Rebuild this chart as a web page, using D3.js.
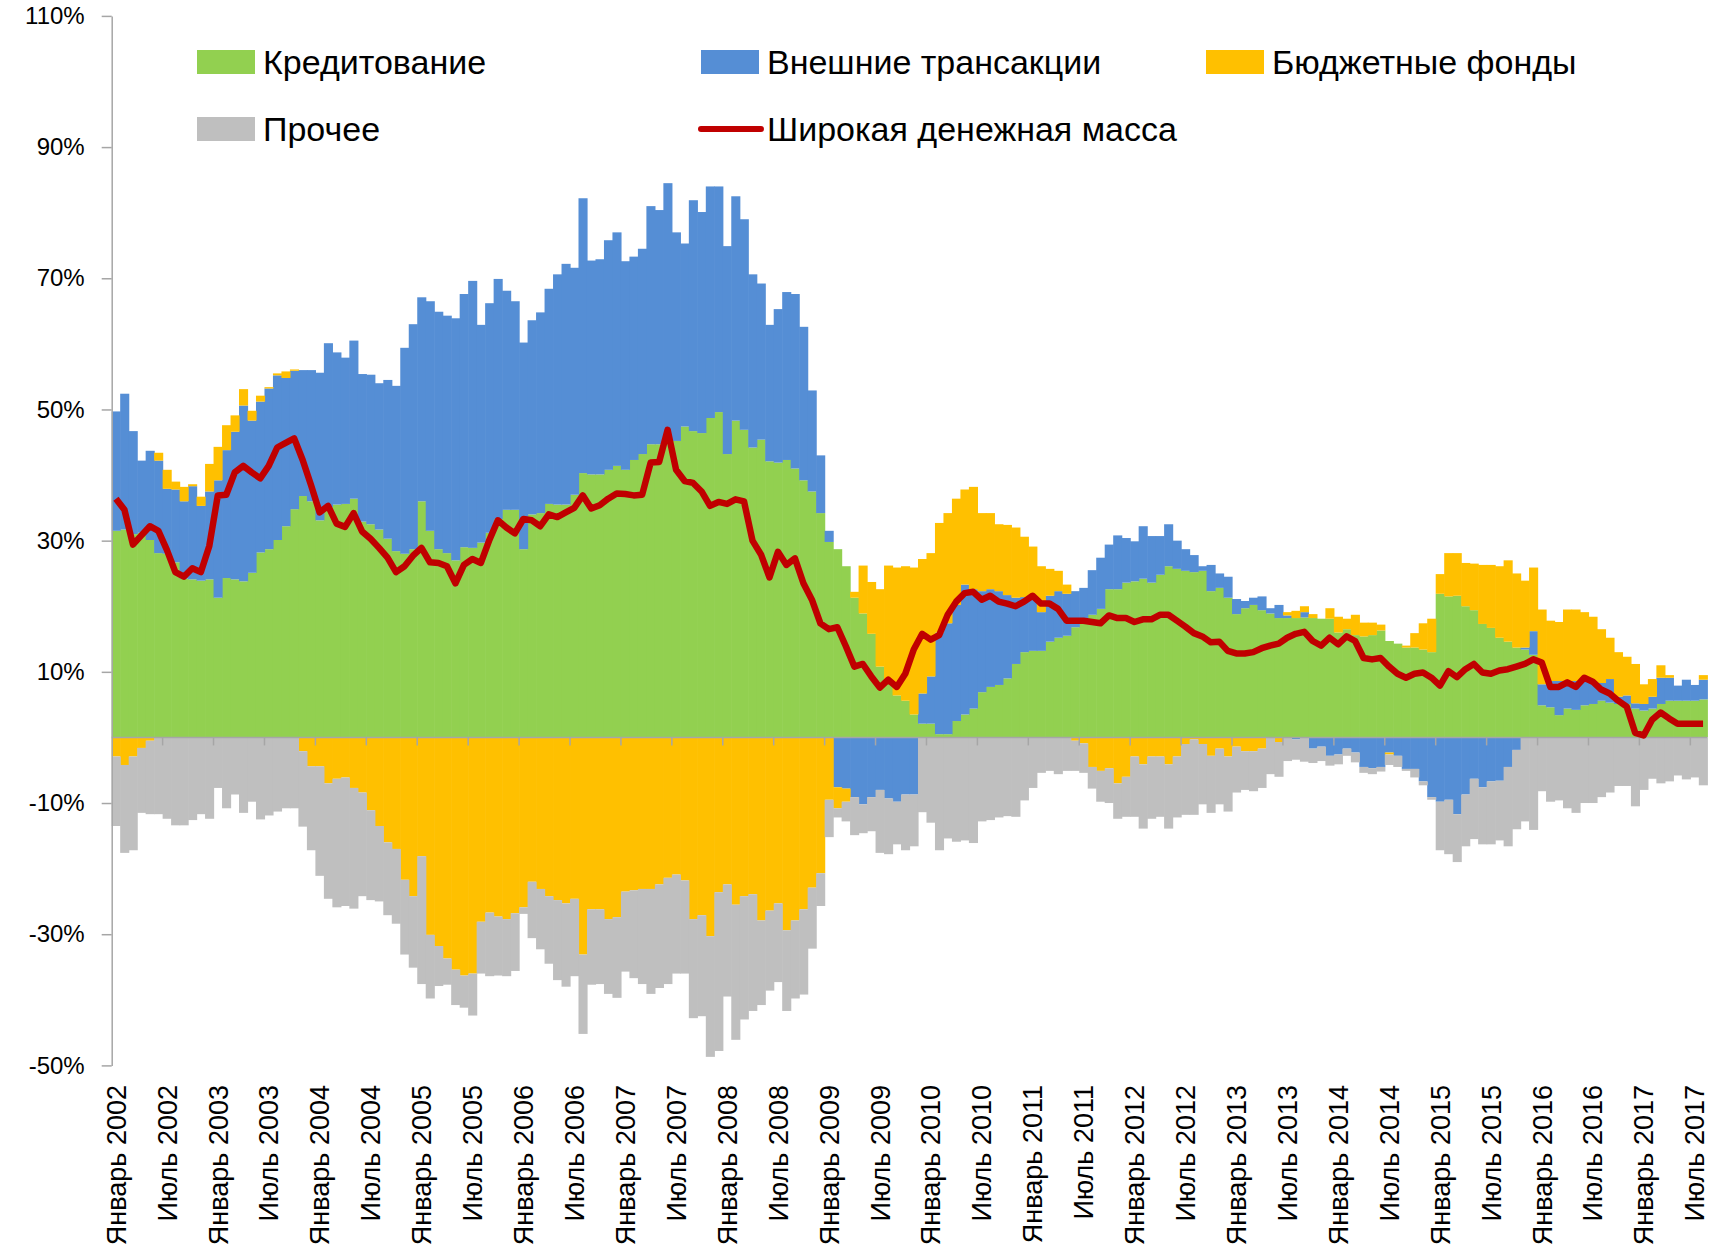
<!DOCTYPE html>
<html>
<head>
<meta charset="utf-8">
<script src="https://cdn.jsdelivr.net/npm/d3@7"></script>
<style>
  body { margin: 0; background: #fff; }
  svg { display: block; font-family: "Liberation Sans", Arial, sans-serif; }
</style>
</head>
<body>
<svg width="1714" height="1251"></svg>
<script>
// monthly data, January 2002 .. August 2017, % y/y contributions
const monthNames = ["Январь", "Февраль", "Март", "Апрель", "Май", "Июнь",
  "Июль", "Август", "Сентябрь", "Октябрь", "Ноябрь", "Декабрь"];
const startYear = 2002;

const credit = [
  31.5, 31.7, 31.0, 31.2, 30.1, 28.1, 28.0, 26.7, 24.2, 24.1,
  23.9, 24.1, 21.3, 24.3, 24.1, 23.8, 25.1, 28.2, 28.7, 30.1,
  32.2, 34.8, 36.8, 36.0, 33.1, 35.1, 35.5, 35.6, 36.4, 32.9,
  32.5, 31.7, 30.3, 28.4, 28.0, 28.7, 36.0, 31.5, 28.7, 28.1,
  27.0, 29.0, 28.9, 29.7, 31.2, 33.3, 34.7, 34.7, 28.7, 34.0,
  34.2, 35.6, 35.5, 35.5, 37.0, 40.3, 40.1, 40.1, 40.8, 41.4,
  40.8, 42.3, 43.2, 44.7, 44.7, 45.2, 45.2, 47.4, 46.7, 46.4,
  48.7, 49.6, 43.2, 48.3, 46.9, 44.2, 45.4, 42.1, 41.9, 42.3,
  41.0, 39.2, 37.5, 34.2, 29.8, 28.7, 26.1, 21.3, 18.9, 15.8,
  10.8, 8.6, 6.4, 5.6, 3.5, 2.1, 2.1, 0.5, 0.5, 2.5,
  3.5, 4.4, 6.9, 7.7, 8.0, 9.0, 11.2, 13.0, 13.2, 13.2,
  14.6, 15.2, 15.5, 16.8, 17.4, 18.7, 19.6, 22.6, 22.6, 23.6,
  23.8, 24.2, 23.6, 24.8, 26.1, 25.7, 25.4, 25.2, 25.4, 22.3,
  22.8, 21.3, 18.8, 19.7, 20.2, 19.4, 18.9, 18.2, 18.2, 18.2,
  18.3, 18.2, 18.1, 18.1, 16.0, 16.5, 15.6, 15.4, 15.6, 16.3,
  14.7, 14.3, 13.7, 13.7, 13.4, 13.0, 21.9, 21.5, 21.6, 20.0,
  19.4, 17.3, 16.7, 15.2, 14.6, 13.7, 13.4, 12.6, 4.9, 4.6,
  3.4, 4.4, 4.2, 4.9, 5.1, 5.6, 5.3, 5.1, 5.1, 4.4,
  4.1, 4.4, 5.1, 5.6, 5.6, 5.6, 5.6, 5.8
];

const external = [
  18.2, 20.7, 15.7, 11.0, 13.6, 14.1, 9.9, 11.1, 11.8, 14.2,
  11.4, 13.4, 17.9, 19.5, 22.5, 26.8, 23.2, 23.0, 24.5, 25.1,
  22.6, 21.1, 19.2, 20.0, 22.5, 25.0, 23.2, 22.3, 24.1, 22.5,
  22.8, 22.3, 24.2, 25.2, 31.4, 34.3, 31.1, 35.0, 36.2, 36.2,
  36.9, 38.6, 40.7, 33.2, 35.0, 36.6, 33.4, 31.8, 31.5, 29.6,
  30.6, 32.8, 35.1, 36.7, 34.6, 41.9, 32.6, 32.8, 35.0, 35.6,
  31.8, 31.0, 31.3, 36.3, 35.7, 39.3, 31.8, 27.9, 35.2, 33.7,
  35.3, 34.4, 31.7, 34.2, 32.1, 26.4, 23.8, 20.8, 23.4, 25.6,
  26.6, 23.4, 15.4, 8.8, 1.7, -7.6, -7.8, -9.1, -10.2, -9.1,
  -8.0, -9.3, -9.8, -8.7, -8.7, 4.6, 7.2, 15.5, 16.9, 17.7,
  19.8, 18.2, 15.4, 14.9, 14.3, 12.7, 10.1, 8.4, 7.8, 5.9,
  7.0, 7.1, 6.4, 5.5, 5.4, 6.8, 7.8, 6.8, 8.2, 6.8,
  6.1, 8.0, 7.1, 5.9, 6.4, 4.3, 3.3, 2.6, 0.7, 4.0,
  2.2, 3.2, 2.3, 1.1, 1.1, 2.1, 0.8, 2.0, 0.4, -0.3,
  0.8, -1.7, -1.4, -2.8, -2.6, -1.7, -2.3, -4.5, -4.7, -4.5,
  -2.3, -2.8, -4.8, -4.8, -6.7, -9.1, -9.8, -9.5, -11.7, -8.7,
  -6.3, -7.6, -6.7, -6.6, -4.5, -1.9, 0.3, 3.6, 3.2, 4.0,
  5.2, 4.2, 4.4, 3.9, 3.2, 2.7, 3.6, 1.1, 1.3, 0.8,
  1.0, 1.8, 4.0, 3.5, 2.3, 3.2, 2.4, 3.0
];

const budget = [
  -2.9, -4.2, -2.9, -1.6, -0.5, 1.2, 2.9, 1.2, 2.2, 0.3,
  1.4, 4.2, 5.1, 3.8, 2.5, 2.5, 1.5, 0.9, 0.2, 0.3,
  1.0, 0.2, -2.1, -4.4, -4.4, -7.0, -6.3, -6.1, -7.7, -8.4,
  -11.1, -13.5, -16.0, -17.0, -21.7, -24.2, -18.1, -30.1, -31.8, -33.7,
  -35.4, -36.3, -36.0, -28.1, -26.7, -27.3, -27.7, -26.8, -25.9, -22.0,
  -23.1, -24.2, -24.8, -25.3, -24.6, -33.1, -26.2, -26.2, -27.7, -27.4,
  -23.5, -23.3, -23.1, -23.1, -22.4, -21.4, -20.9, -21.8, -27.7, -27.1,
  -30.3, -23.6, -22.4, -25.5, -24.2, -23.9, -27.9, -26.4, -25.3, -29.4,
  -27.9, -26.2, -22.9, -20.7, -9.5, -3.2, -2.0, 0.9, 7.3, 7.9,
  11.8, 17.6, 19.5, 20.5, 22.4, 20.5, 18.8, 16.7, 16.8, 16.2,
  14.5, 15.6, 11.9, 11.6, 10.2, 10.7, 10.7, 9.2, 8.1, 7.0,
  4.1, 3.1, 1.4, -0.5, -0.9, -4.5, -5.1, -4.7, -7.0, -6.0,
  -2.9, -4.1, -2.9, -2.9, -4.1, -2.9, -1.0, -0.3, -1.0, -2.8,
  -1.7, -2.9, -1.4, -2.1, -2.1, -1.7, 0, -0.7, 0.5, 1.1,
  0.9, 0.6, 0, 1.6, 2.4, 1.6, 3.1, 2.1, 1.9, 0.9,
  -0.3, 0, 0.3, 2.2, 4.0, 5.1, 3.0, 6.6, 6.5, 6.6,
  7.1, 9.0, 9.6, 10.9, 12.4, 11.3, 10.2, 9.7, 11.4, 9.2,
  9.0, 10.9, 10.9, 10.3, 10.1, 8.2, 6.3, 6.8, 5.9, 6.0,
  3.0, 2.7, 1.9, 0.4, 0, 0, 0, 0.7
];

const other = [
  -10.6, -13.4, -14.3, -9.9, -11.2, -11.7, -12.4, -13.4, -13.4, -12.6,
  -11.7, -12.4, -7.7, -10.8, -8.7, -11.5, -9.8, -12.5, -11.9, -11.3,
  -10.8, -10.8, -11.5, -12.8, -16.7, -17.6, -19.6, -19.6, -18.4, -15.8,
  -13.7, -11.5, -11.1, -11.4, -11.4, -10.9, -19.5, -9.7, -6.1, -4.0,
  -5.4, -4.9, -6.4, -7.9, -9.7, -9.0, -8.7, -8.8, -1.0, -8.6,
  -9.2, -10.3, -12.2, -12.7, -11.8, -12.1, -11.5, -11.4, -11.4, -12.3,
  -12.2, -13.4, -14.5, -16.0, -15.8, -16.2, -15.1, -14.2, -15.1, -15.4,
  -18.4, -24.2, -17.1, -20.6, -18.8, -17.8, -12.9, -12.2, -12.0, -12.3,
  -11.9, -13.0, -9.3, -5.0, -5.7, -1.4, -3.0, -5.8, -4.4, -5.2,
  -9.6, -8.5, -6.5, -8.5, -7.9, -11.4, -13.0, -17.2, -15.4, -15.9,
  -15.7, -16.1, -12.8, -12.6, -12.2, -12.0, -12.1, -9.6, -7.7, -5.4,
  -5.1, -5.6, -5.1, -4.6, -4.5, -3.3, -4.7, -5.3, -5.4, -6.1,
  -9.2, -9.8, -9.5, -9.2, -9.8, -9.3, -10.8, -11.5, -9.2, -8.7,
  -8.5, -8.4, -7.0, -5.9, -6.1, -6.0, -5.6, -5.3, -3.6, -3.1,
  -3.7, -2.2, -2.2, -1.5, -1.5, -1.1, -1.5, -0.9, -0.9, -0.7,
  -1.6, -1.7, -0.3, -1.3, -0.6, -0.4, -7.4, -8.3, -7.3, -7.9,
  -9.2, -8.7, -9.6, -9.1, -12.1, -12.1, -12.8, -14.1, -8.2, -9.8,
  -9.6, -10.8, -11.5, -10.0, -10.0, -9.1, -8.4, -7.4, -7.4, -10.5,
  -8.0, -6.3, -7.0, -6.7, -5.8, -6.4, -6.1, -7.3
];

const broadMoney = [
  36.4, 34.7, 29.4, 30.8, 32.2, 31.5, 28.6, 25.2, 24.5, 25.8,
  25.2, 29.2, 36.9, 37.0, 40.4, 41.4, 40.4, 39.5, 41.4, 44.2,
  44.9, 45.6, 42.3, 38.4, 34.3, 35.3, 32.6, 32.1, 34.2, 31.4,
  30.3, 28.9, 27.4, 25.2, 26.1, 27.7, 28.9, 26.7, 26.6, 26.1,
  23.5, 26.3, 27.2, 26.6, 30.1, 33.1, 32.0, 31.1, 33.3, 33.1,
  32.2, 34.0, 33.6, 34.3, 35.0, 36.9, 34.9, 35.4, 36.4, 37.2,
  37.1, 36.9, 37.0, 41.9, 42.0, 46.9, 40.8, 39.1, 38.8, 37.5,
  35.3, 35.9, 35.6, 36.3, 36.0, 30.0, 27.9, 24.4, 28.3, 26.3,
  27.3, 23.5, 21.0, 17.4, 16.5, 16.8, 13.9, 10.8, 11.2, 9.3,
  7.6, 8.8, 7.7, 9.7, 13.4, 15.8, 14.9, 15.6, 18.7, 20.7,
  22.0, 22.2, 21.0, 21.6, 20.7, 20.4, 20.0, 20.7, 21.6, 20.4,
  20.4, 19.6, 17.8, 17.8, 17.8, 17.6, 17.4, 18.6, 18.2, 18.2,
  17.6, 18.0, 18.0, 18.7, 18.7, 17.8, 16.9, 15.9, 15.4, 14.5,
  14.6, 13.2, 12.8, 12.8, 13.0, 13.6, 14.0, 14.3, 15.2, 15.8,
  16.1, 14.7, 14.0, 15.2, 14.2, 15.4, 14.7, 12.1, 11.9, 12.1,
  10.8, 9.7, 9.1, 9.7, 9.9, 9.1, 7.9, 10.1, 9.2, 10.4,
  11.2, 9.9, 9.7, 10.2, 10.4, 10.8, 11.2, 11.9, 11.4, 7.7,
  7.7, 8.4, 7.7, 9.1, 8.5, 7.3, 6.7, 5.6, 4.7, 0.7,
  0.3, 2.7, 3.8, 2.9, 2.1, 2.1, 2.1, 2.1
];

const yTicks = [-50, -30, -10, 10, 30, 50, 70, 90, 110];

const seriesKeys = ["credit", "external", "budget", "other"];
const seriesNames = ["Кредитование", "Внешние трансакции", "Бюджетные фонды", "Прочее"];
const seriesColors = ["#92D050", "#558ED5", "#FFC000", "#BFBFBF"];
const lineName = "Широкая денежная масса";
const lineColor = "#C00000";

const months = credit.map((d, i) => monthNames[i % 12] + " " + (startYear + Math.floor(i / 12)));
const table = months.map((m, i) => ({
  month: m, idx: i,
  credit: credit[i], external: external[i], budget: budget[i], other: other[i]
}));

const svg = d3.select("svg");
svg.append("rect").attr("width", 1714).attr("height", 1251).attr("fill", "#fff");

const x = d3.scaleBand()
  .domain(d3.range(months.length))
  .range([111.7, 1707.3])
  .padding(0);
const bw = x.bandwidth();

const y = d3.scaleLinear()
  .domain([-50, 110])
  .range([1065.4, 15.9]);

const stack = d3.stack()
  .keys(seriesKeys)
  .offset(d3.stackOffsetDiverging);
const stacked = stack(table);

const layers = svg.selectAll("g.layer")
  .data(stacked)
  .enter()
  .append("g")
  .attr("class", "layer")
  .attr("fill", (d, i) => seriesColors[i]);

layers.selectAll("rect")
  .data(d => d.filter(p => p[1] !== p[0]))
  .enter()
  .append("rect")
  .attr("x", d => x(d.data.idx))
  .attr("width", bw + 0.6)
  .attr("y", d => y(Math.max(d[0], d[1])))
  .attr("height", d => Math.abs(y(d[0]) - y(d[1])));

// y axis
const yAxis = svg.append("g")
  .attr("transform", "translate(111.7,0)")
  .call(d3.axisLeft(y).tickValues(yTicks).tickSize(10).tickSizeOuter(0).tickPadding(17)
    .tickFormat(d => d + "%"));
yAxis.select(".domain").attr("stroke", "#A6A6A6").attr("stroke-width", 1.5);
yAxis.selectAll(".tick line").attr("stroke", "#A6A6A6").attr("stroke-width", 1.5);
yAxis.selectAll(".tick text")
  .attr("fill", "#000")
  .style("font-size", "24px")
  .style("font-family", "'Liberation Sans', Arial, sans-serif");

// category axis at zero
const y0 = y(0);
svg.append("line")
  .attr("x1", 111.7).attr("x2", 1707.3)
  .attr("y1", y0).attr("y2", y0)
  .attr("stroke", "#A6A6A6").attr("stroke-width", 1.5);

const tickIdx = d3.range(0, months.length, 6);
svg.selectAll("line.xtick")
  .data(tickIdx.filter(i => i > 0))
  .enter()
  .append("line")
  .attr("class", "xtick")
  .attr("x1", d => x(d)).attr("x2", d => x(d))
  .attr("y1", y0).attr("y2", y0 + 8)
  .attr("stroke", "#A6A6A6").attr("stroke-width", 1.5);

svg.selectAll("text.xlabel")
  .data(tickIdx)
  .enter()
  .append("text")
  .attr("class", "xlabel")
  .attr("transform", d => `translate(${x(d) + bw / 2},1085) rotate(-90)`)
  .attr("dy", "0.36em")
  .attr("text-anchor", "end")
  .style("font-size", "27px")
  .attr("fill", "#000")
  .text(d => months[d]);

// broad money line
const line = d3.line()
  .x((d, i) => x(i) + bw / 2)
  .y(d => y(d));

svg.append("path")
  .datum(broadMoney)
  .attr("d", line)
  .attr("fill", "none")
  .attr("stroke", lineColor)
  .attr("stroke-width", 6.5)
  .attr("stroke-linejoin", "round");

// legend
const legendItems = [
  { name: seriesNames[0], color: seriesColors[0], x: 197, y: 62, type: "box" },
  { name: seriesNames[1], color: seriesColors[1], x: 701, y: 62, type: "box" },
  { name: seriesNames[2], color: seriesColors[2], x: 1206, y: 62, type: "box" },
  { name: seriesNames[3], color: seriesColors[3], x: 197, y: 129, type: "box" },
  { name: lineName, color: lineColor, x: 701, y: 129, type: "line" }
];

const legend = svg.selectAll("g.legend")
  .data(legendItems)
  .enter()
  .append("g")
  .attr("class", "legend")
  .attr("transform", d => `translate(${d.x},${d.y})`);

legend.filter(d => d.type === "box")
  .append("rect")
  .attr("x", 0).attr("y", -12)
  .attr("width", 58).attr("height", 24)
  .attr("fill", d => d.color);

legend.filter(d => d.type === "line")
  .append("line")
  .attr("x1", 0).attr("x2", 60)
  .attr("y1", 0).attr("y2", 0)
  .attr("stroke", d => d.color)
  .attr("stroke-width", 6)
  .attr("stroke-linecap", "round");

legend.append("text")
  .attr("x", 66)
  .attr("dy", "0.36em")
  .style("font-size", "34px")
  .attr("fill", "#000")
  .text(d => d.name);
</script>
</body>
</html>
